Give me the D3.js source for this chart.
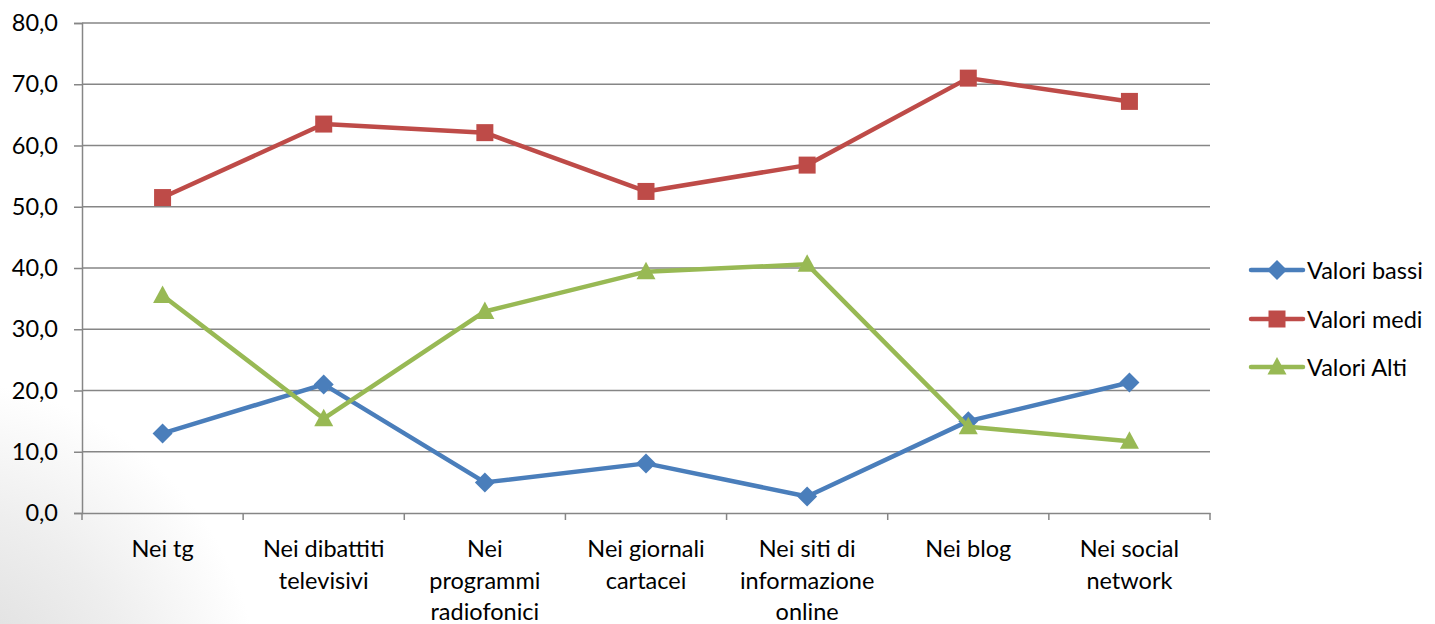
<!DOCTYPE html>
<html>
<head>
<meta charset="utf-8">
<script src="https://cdn.jsdelivr.net/npm/d3@7"></script>
<style>
  html, body { margin: 0; padding: 0; background: #ffffff; }
  svg { display: block; }
  text { font-family: Lato, "Noto Sans", sans-serif; fill: #000; }
</style>
</head>
<body>
<svg id="chart" width="1435" height="624"></svg>
<script>
const categories = [
  ["Nei tg"],
  ["Nei dibattiti", "televisivi"],
  ["Nei", "programmi", "radiofonici"],
  ["Nei giornali", "cartacei"],
  ["Nei siti di", "informazione", "online"],
  ["Nei blog"],
  ["Nei social", "network"]
];
const seriesNames = ["Valori bassi", "Valori medi", "Valori Alti"];
const valoriBassi = [13.0, 21.0, 5.0, 8.1, 2.7, 15.0, 21.3];
const valoriMedi  = [51.5, 63.5, 62.1, 52.5, 56.8, 71.0, 67.2];
const valoriAlti  = [35.5, 15.4, 32.9, 39.4, 40.6, 14.1, 11.7];
const yTicks = [0, 10, 20, 30, 40, 50, 60, 70, 80];
const colors = ["#4a7ebb", "#be4b48", "#98b954"];
const markers = ["diamond", "square", "triangle"];

const seriesValues = [valoriBassi, valoriMedi, valoriAlti];

(function () {
const svg = d3.select("#chart");
const W = 1435, H = 624;
const mLeft = 82, mRight = 1210, mTop = 23, mBottom = 513;
const FS = 23.5;

// background subtle corner gradient
const defs = svg.append("defs");
const rg = defs.append("radialGradient").attr("id", "bg")
  .attr("gradientUnits", "userSpaceOnUse")
  .attr("cx", -60).attr("cy", 700).attr("r", 320);
rg.append("stop").attr("offset", "0%").attr("stop-color", "#d9d9d9");
rg.append("stop").attr("offset", "60%").attr("stop-color", "#eeeeee");
rg.append("stop").attr("offset", "100%").attr("stop-color", "#ffffff");
svg.append("rect").attr("width", W).attr("height", H).attr("fill", "#ffffff");
svg.append("rect").attr("width", W).attr("height", H).attr("fill", "url(#bg)");

const idx = d3.range(categories.length);
const x = d3.scaleBand().domain(idx).range([mLeft, mRight]).padding(0);
const y = d3.scaleLinear().domain([0, 80]).range([mBottom, mTop]);

// gridlines
svg.append("g").selectAll("line").data(yTicks.filter(d => d > 0)).join("line")
  .attr("x1", mLeft).attr("x2", mRight)
  .attr("y1", d => y(d)).attr("y2", d => y(d))
  .attr("stroke", "#868686").attr("stroke-width", 1.5);

// y axis
const yAxis = d3.axisLeft(y).tickValues(yTicks).tickSize(8).tickPadding(16)
  .tickFormat(d => d3.format(".1f")(d).replace(".", ","));
const gy = svg.append("g").attr("transform", `translate(${mLeft},0)`).call(yAxis);
gy.select(".domain").attr("stroke", "#868686").attr("stroke-width", 1.5);
gy.selectAll(".tick line").attr("stroke", "#868686").attr("stroke-width", 1.5);
gy.selectAll(".tick text").attr("font-size", FS).style("font-family", "Lato, 'Noto Sans', sans-serif").attr("fill", "#000");

// x axis
const xAxis = d3.axisBottom(x).tickSize(0).tickFormat("");
const gx = svg.append("g").attr("transform", `translate(0,${mBottom})`).call(xAxis);
gx.select(".domain").attr("stroke", "#868686").attr("stroke-width", 1.5);
const boundaries = d3.range(categories.length + 1).map(i => i < categories.length ? x(i) : mRight);
gx.append("g").selectAll("line").data(boundaries).join("line")
  .attr("x1", d => d).attr("x2", d => d).attr("y1", 0).attr("y2", 7)
  .attr("stroke", "#868686").attr("stroke-width", 1.5);

// category labels
const labels = svg.append("g");
idx.forEach(i => {
  const cx = x(i) + x.bandwidth() / 2;
  const t = labels.append("text")
    .attr("x", cx).attr("y", 557)
    .attr("text-anchor", "middle")
    .attr("font-size", FS);
  categories[i].forEach((ln, k) => {
    t.append("tspan").attr("x", cx).attr("y", 557 + k * 31.5).text(ln);
  });
});

function markerPath(type) {
  if (type === "diamond") return "M0,-10L10,0L0,10L-10,0Z";
  if (type === "square") return "M-8.5,-8.5H8.5V8.5H-8.5Z";
  return "M0,-10L9.5,7.5L-9.5,7.5Z";
}

const lineGen = d3.line().x((d, i) => x(i) + x.bandwidth() / 2).y(d => y(d));

seriesValues.forEach((vals, s) => {
  const g = svg.append("g");
  g.append("path").datum(vals).attr("d", lineGen)
    .attr("fill", "none").attr("stroke", colors[s]).attr("stroke-width", 4.5)
    .attr("stroke-linejoin", "round").attr("stroke-linecap", "round");
  g.selectAll("path.m").data(vals).join("path").attr("class", "m")
    .attr("d", markerPath(markers[s]))
    .attr("transform", (d, i) => `translate(${x(i) + x.bandwidth() / 2},${y(d)})`)
    .attr("fill", colors[s]);
});

// legend
const legendY = [270, 319, 367];
seriesNames.forEach((name, s) => {
  const g = svg.append("g").attr("transform", `translate(0,${legendY[s]})`);
  g.append("line").attr("x1", 1251).attr("x2", 1303).attr("y1", 0).attr("y2", 0)
    .attr("stroke", colors[s]).attr("stroke-width", 4.5).attr("stroke-linecap", "round");
  g.append("path").attr("d", markerPath(markers[s]))
    .attr("transform", "translate(1277,0)").attr("fill", colors[s]);
  g.append("text").attr("x", 1307).attr("y", 8.5).attr("font-size", FS).text(name);
});
})();
</script>
</body>
</html>
